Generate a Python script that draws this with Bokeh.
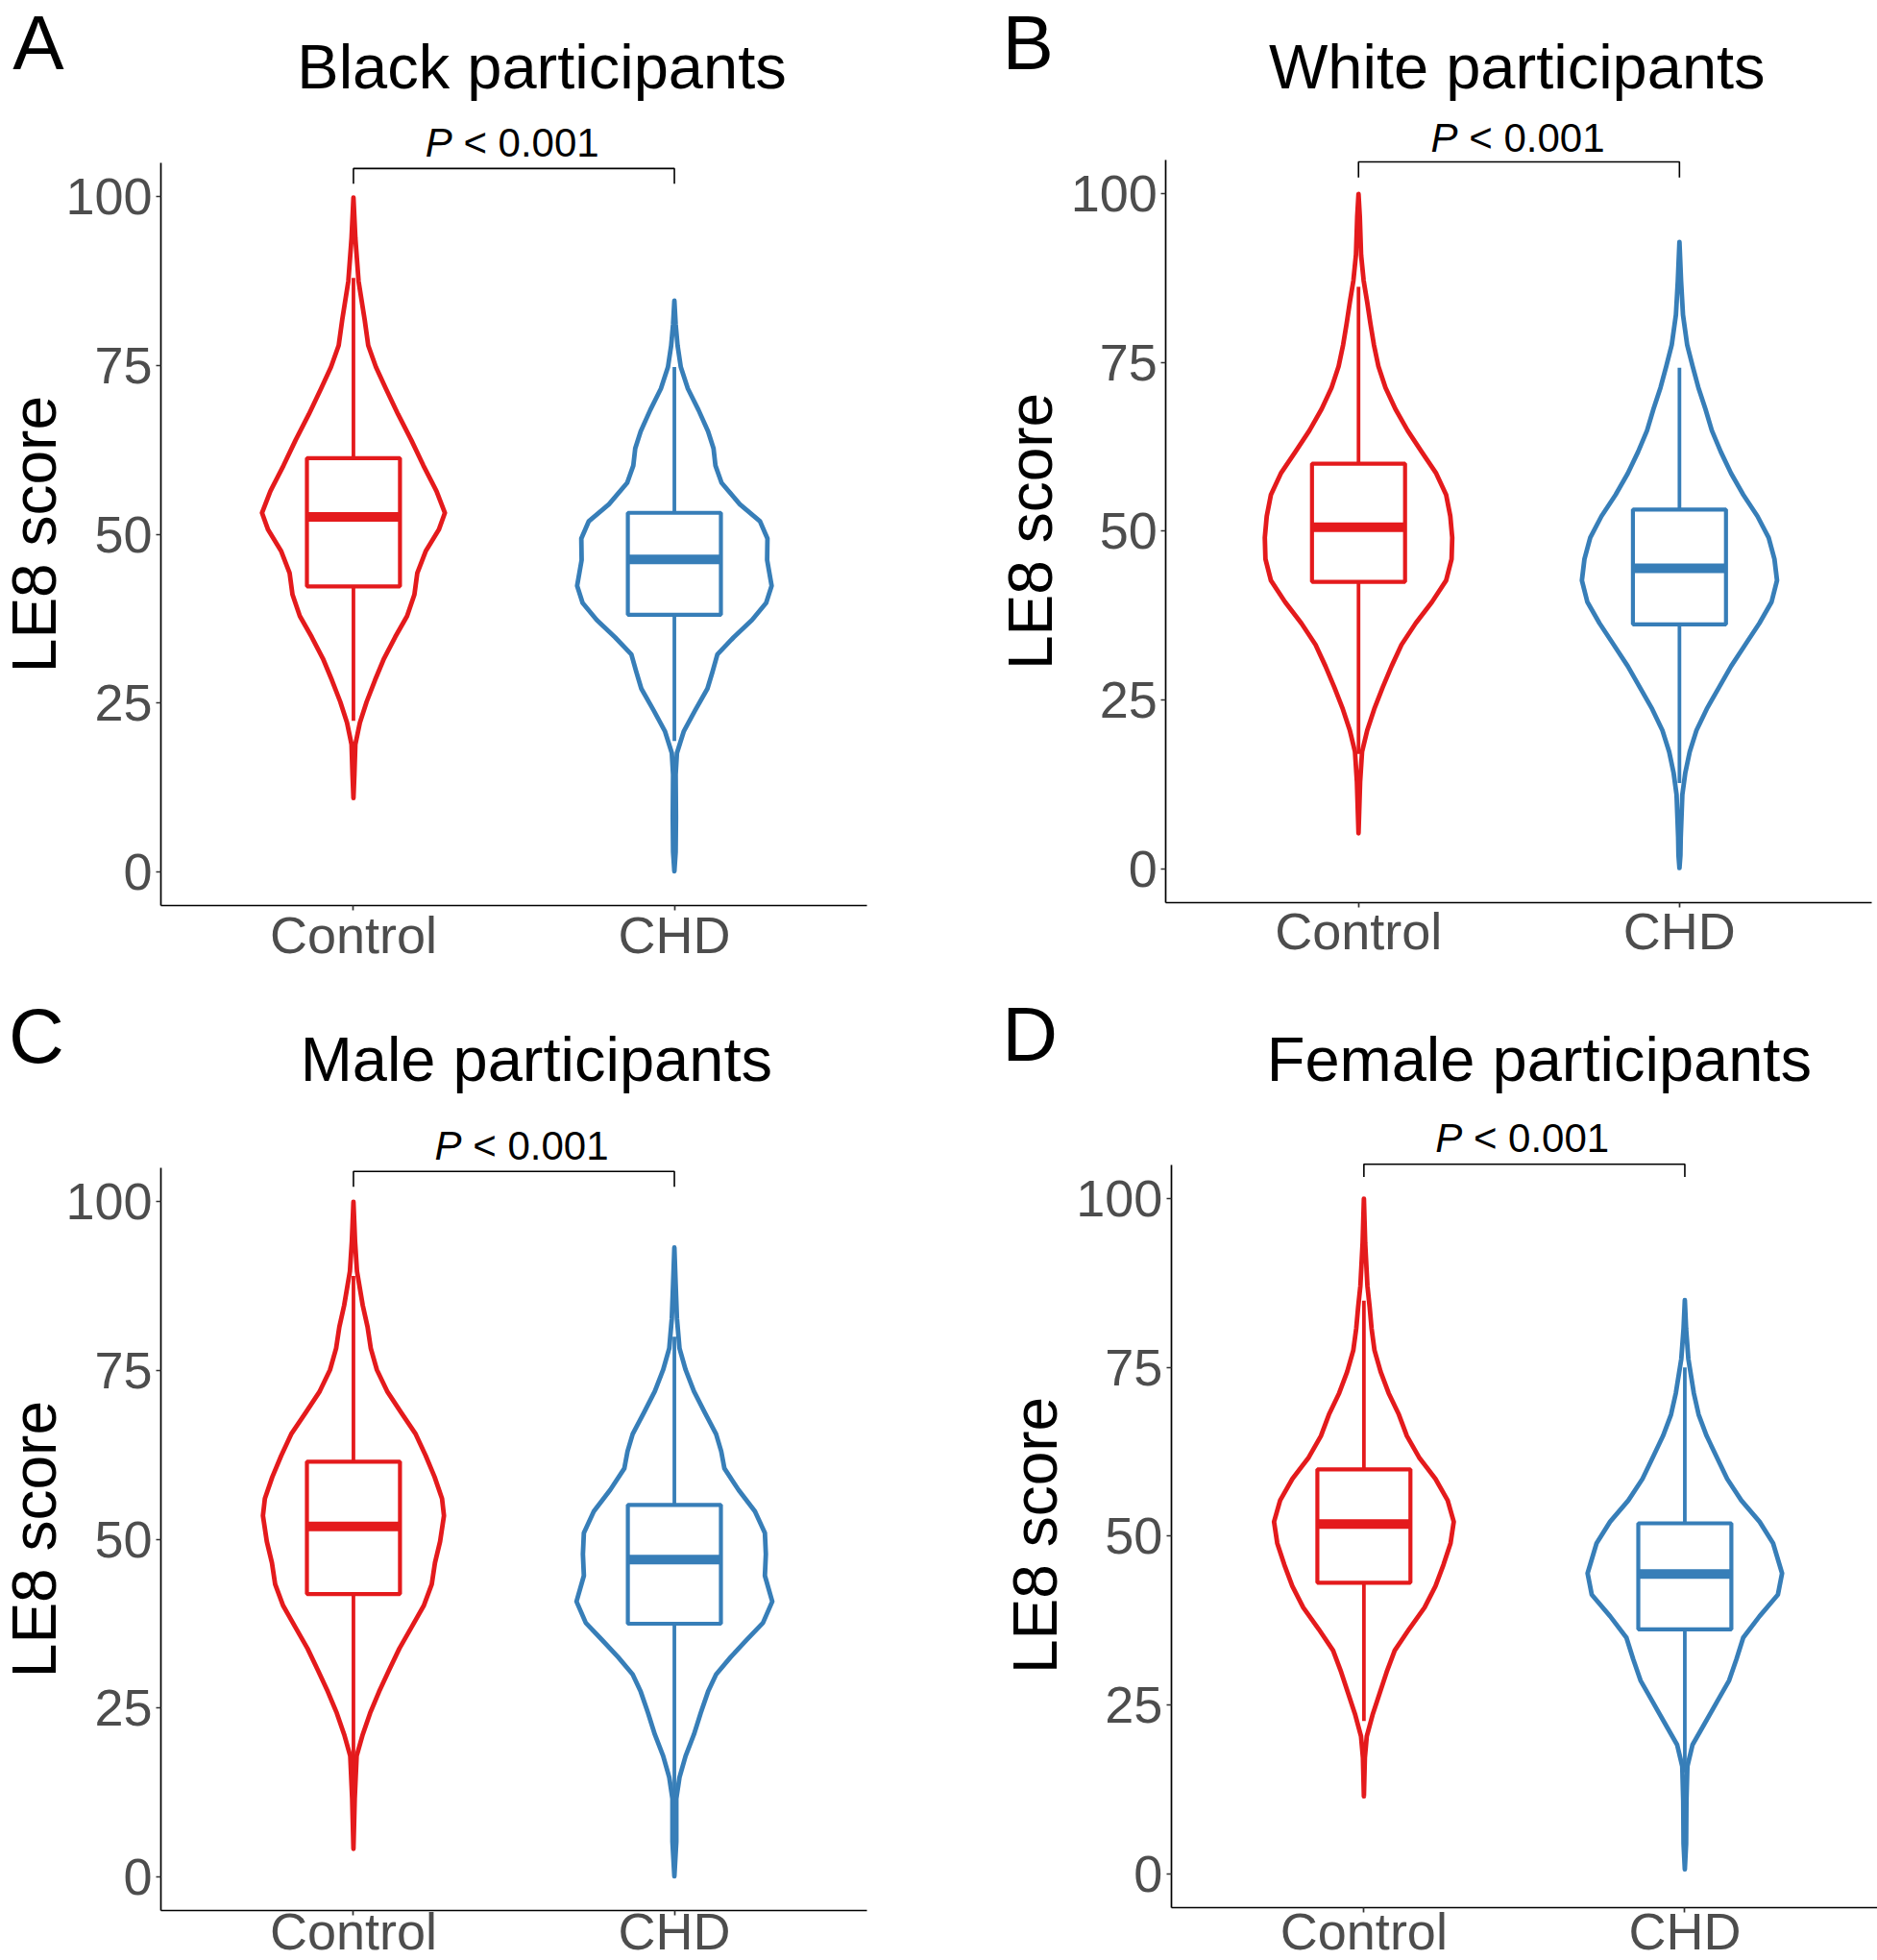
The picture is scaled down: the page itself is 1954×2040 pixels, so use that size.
import math
from bokeh.plotting import figure
from bokeh.models import Range1d, FixedTicker, Label, LinearAxis
from bokeh.layouts import row, column
from bokeh.embed import file_html
from bokeh.resources import INLINE

FONT = "Liberation Sans"
RED = "#E41A1C"
BLUE = "#377EB8"
TICK_GREY = "#4D4D4D"

# ---------------- data ----------------
categories = ["Control", "CHD"]
panel_letters = ["A", "B", "C", "D"]
panel_titles = ["Black participants", "White participants",
                "Male participants", "Female participants"]
p_italic = "P"
p_value_text = "< 0.001"
y_ticks = [0, 25, 50, 75, 100]
y_label = "LE8 score"

# violin outlines: LE8 score levels (top -> bottom) and half-widths (category units)
A_ctrl_y = [99.9, 93.9, 87.5, 81.8, 78.0, 74.8, 71.6, 67.8, 64.0, 60.2, 56.4, 53.2, 50.7,
            47.5, 44.3, 41.1, 37.9, 34.8, 31.6, 28.4, 25.2, 22.1, 18.9, 14.5, 10.95]
A_ctrl_w = [0, .006, .016, .035, .046, .070, .101, .139, .180, .218, .259, .285, .266,
            .225, .199, .190, .167, .130, .095, .067, .041, .020, .006, .003, 0]
A_chd_y = [84.65, 81.15, 77.98, 74.8, 71.6, 68.45, 65.27, 62.73, 60.19, 57.65, 54.47, 51.93,
           49.39, 46.21, 42.4, 39.86, 37.32, 34.77, 32.23, 29.69, 27.15, 23.97, 20.8, 17.62,
           14.44, 8.09, 3.0, 0.1]
A_chd_w = [0, .004, .010, .020, .042, .075, .105, .122, .128, .147, .204, .267, .290, .289,
           .303, .286, .242, .185, .134, .119, .103, .065, .029, .008, .004, .005, .004, 0]

B_ctrl_y = [99.94, 96.64, 90.93, 87.12, 83.95, 80.78, 77.6, 74.43, 71.26, 68.08, 64.91, 61.74,
            58.56, 55.39, 52.22, 49.04, 45.87, 42.7, 39.52, 36.35, 33.18, 30.0, 26.83, 23.66,
            20.48, 17.31, 12.87, 5.25]
B_ctrl_w = [0, .004, .008, .016, .027, .037, .048, .062, .084, .115, .153, .197, .242, .273,
            .286, .292, .290, .273, .229, .178, .134, .103, .075, .049, .027, .011, .005, 0]
B_chd_y = [92.83, 87.12, 82.05, 77.6, 74.43, 71.26, 68.08, 64.91, 61.74, 58.56, 55.39, 52.22,
           49.04, 45.87, 42.7, 39.52, 36.35, 33.18, 30.0, 26.83, 23.66, 20.48, 17.31, 14.14,
           10.96, 4.61, 2.0, 0.1]
B_chd_w = [0, .005, .011, .024, .041, .059, .081, .101, .129, .161, .199, .243, .278, .296,
           .304, .287, .249, .205, .161, .123, .085, .053, .032, .018, .009, .004, .003, 0]

C_ctrl_y = [100.0, 94.17, 89.72, 84.64, 81.46, 78.28, 75.11, 71.93, 68.75, 65.58, 62.4, 59.22,
            56.04, 53.5, 49.69, 46.51, 43.34, 40.16, 36.98, 33.81, 30.63, 27.45, 24.27, 21.1,
            17.92, 11.57, 4.16]
C_ctrl_w = [0, .005, .011, .029, .044, .054, .073, .105, .149, .194, .225, .253, .276, .282,
            .270, .254, .244, .219, .181, .143, .111, .080, .052, .029, .010, .004, 0]
C_chd_y = [93.22, 87.81, 82.73, 78.28, 75.11, 71.93, 68.75, 65.58, 63.03, 60.49, 57.32, 54.14,
           50.96, 47.79, 44.61, 40.79, 37.62, 35.08, 32.53, 29.99, 27.45, 24.27, 21.1, 17.92,
           14.74, 11.57, 5.21, 0.1]
C_chd_w = [0, .004, .008, .016, .035, .061, .095, .130, .146, .156, .200, .251, .282, .285,
           .282, .305, .276, .225, .175, .130, .105, .082, .061, .035, .016, .006, .006, 0]

D_ctrl_y = [100.0, 93.43, 87.07, 83.9, 80.72, 77.54, 74.37, 71.19, 68.01, 64.84, 61.66, 58.48,
            55.3, 52.13, 48.95, 45.77, 42.6, 39.42, 36.24, 33.06, 29.89, 26.71, 23.53, 20.36,
            17.18, 11.46]
D_ctrl_w = [0, .004, .011, .018, .024, .033, .052, .077, .109, .134, .172, .223, .261, .280,
            .270, .248, .223, .189, .141, .096, .071, .049, .027, .009, .003, 0]
D_chd_y = [84.98, 80.72, 76.27, 71.19, 68.01, 64.84, 61.66, 58.48, 55.3, 52.13, 48.95, 44.5,
           41.33, 38.15, 34.97, 31.8, 28.62, 25.44, 22.26, 19.09, 15.91, 10.83, 4.47, 0.64]
D_chd_w = [0, .004, .011, .028, .043, .068, .100, .132, .176, .233, .275, .303, .290, .233,
           .182, .161, .138, .100, .062, .024, .008, .005, .004, 0]

# box plots: [whisker low, Q1, median, Q3, whisker high]
A_ctrl_box = [22.4, 42.3, 52.6, 61.3, 88.0]
A_chd_box = [19.4, 38.1, 46.3, 53.2, 74.8]
B_ctrl_box = [17.0, 42.5, 50.6, 60.0, 86.2]
B_chd_box = [12.7, 36.2, 44.5, 53.2, 74.2]
C_ctrl_box = [13.0, 41.9, 51.9, 61.5, 89.0]
C_chd_box = [12.0, 37.5, 47.0, 55.1, 80.0]
D_ctrl_box = [22.6, 43.1, 51.8, 59.9, 84.9]
D_chd_box = [15.0, 36.2, 44.4, 51.9, 75.0]

# significance brackets: [bar height, tick end] in LE8 units
A_bracket = [104.2, 101.95]
B_bracket = [104.7, 102.4]
C_bracket = [104.5, 102.2]
D_bracket = [105.1, 103.2]

panel_data = {
    "A": ((A_ctrl_y, A_ctrl_w, A_ctrl_box), (A_chd_y, A_chd_w, A_chd_box), A_bracket),
    "B": ((B_ctrl_y, B_ctrl_w, B_ctrl_box), (B_chd_y, B_chd_w, B_chd_box), B_bracket),
    "C": ((C_ctrl_y, C_ctrl_w, C_ctrl_box), (C_chd_y, C_chd_w, C_chd_box), C_bracket),
    "D": ((D_ctrl_y, D_ctrl_w, D_ctrl_box), (D_chd_y, D_chd_w, D_chd_box), D_bracket),
}

# ---------------- layout (page pixels; page content starts at 0,0) ----------------
FW = 977
FH = 1020
XS = 735 / 2.2          # px per category unit
YS = 772.9 / 110.0      # px per LE8 unit
X0, X1 = 0.4, 2.6       # axis extent (category units)
Y0, Y1 = -5, 105        # axis extent (LE8 units)
BASE_K = 0.36           # renderer places the anchor ~0.36 em above the alphabetic baseline

# figure origin (ox, oy) and the plotting-panel top-left corner (fl, ft), in page px
geom = {
    "A": dict(ox=0, oy=0, fl=167.0, ft=169.3),
    "B": dict(ox=977, oy=0, fl=1213.3, ft=165.9),
    "C": dict(ox=0, oy=1020, fl=167.0, ft=1215.2),
    "D": dict(ox=977, oy=1020, fl=1218.9, ft=1211.9),
}
# text anchors in page px (baselines)
text_pos = {
    "A": dict(letter=(12.7, 73.0), title=(563.5, 92.7), p=(532.7, 162.7), ylab=(58.5, 555.6), xstand=-5),
    "B": dict(letter=(1043, 73.0), title=(1578.8, 92.4), p=(1579.5, 158.1), ylab=(1096, 552.4), xstand=-5),
    "C": dict(letter=(8.5, 1106.5), title=(557.8, 1125.4), p=(542.5, 1207.4), ylab=(58.5, 1601.6), xstand=-14),
    "D": dict(letter=(1042.7, 1104.6), title=(1601.8, 1125.4), p=(1584.2, 1199.0), ylab=(1101, 1597.4), xstand=-10),
}

LETTER_FS = 80
TITLE_FS = 65
P_FS = 42
YLAB_FS = 64


def make_panel(key, idx):
    g = geom[key]
    fl, ft, ox, oy = g["fl"], g["ft"], g["ox"], g["oy"]

    def px_x(X):
        return X0 + (X - fl) / XS

    def px_y(Y):
        return Y1 - (Y - ft) / YS

    p = figure(width=FW, height=FH,
               x_range=Range1d(px_x(ox), px_x(ox + FW)),
               y_range=Range1d(px_y(oy + FH), px_y(oy)),
               output_backend="svg", toolbar_location=None, tools="",
               x_axis_location=None, y_axis_location=None,
               min_border=0, min_border_left=0, min_border_right=0,
               min_border_top=0, min_border_bottom=0)
    p.outline_line_color = None
    p.background_fill_color = "white"
    p.border_fill_color = "white"
    p.grid.visible = False

    tp = text_pos[key]
    yaxis = LinearAxis(fixed_location=X0, bounds=(Y0, Y1), ticker=FixedTicker(ticks=y_ticks))
    xaxis = LinearAxis(fixed_location=Y0, bounds=(X0, X1), ticker=FixedTicker(ticks=[1, 2]),
                       major_label_overrides={1: categories[0], 2: categories[1]})
    for ax in (xaxis, yaxis):
        ax.axis_line_color = "black"
        ax.axis_line_width = 1.7
        ax.major_tick_line_color = "#333333"
        ax.major_tick_line_width = 1.7
        ax.major_tick_in = 0
        ax.major_tick_out = 5
        ax.minor_tick_line_color = None
        ax.major_label_text_font = FONT
        ax.major_label_text_color = TICK_GREY
        ax.major_label_text_font_size = "54px"
    yaxis.major_label_standoff = 4
    xaxis.major_label_standoff = tp["xstand"]
    p.add_layout(yaxis, "left")
    p.add_layout(xaxis, "below")

    groups = panel_data[key]
    colors = [RED, BLUE]
    for gi in range(2):
        yv, wv, box = groups[gi]
        c = gi + 1
        col = colors[gi]
        ys_up = list(reversed(yv))
        ws_up = list(reversed(wv))
        xs = [c + w for w in ws_up] + [c - w for w in reversed(ws_up)]
        ys = ys_up + list(reversed(ys_up))
        p.patch(xs, ys, fill_color="white", line_color=col, line_width=4.8, line_join="round")
        wlo, q1, med, q3, whi = box
        p.segment(x0=[c], y0=[wlo], x1=[c], y1=[whi], line_color=col, line_width=3.8)
        p.quad(left=[c - 0.145], right=[c + 0.145], bottom=[q1], top=[q3],
               fill_color="white", line_color=col, line_width=4.2)
        p.segment(x0=[c - 0.145], y0=[med], x1=[c + 0.145], y1=[med],
                  line_color=col, line_width=10, line_cap="butt")

    br = groups[2]
    p.line([1, 1, 2, 2], [br[1], br[0], br[0], br[1]], line_color="black", line_width=1.6)

    def hlabel(X, Ybase, text, fs, align, style="normal", color="black"):
        p.add_layout(Label(x=px_x(X), y=px_y(Ybase - BASE_K * fs), text=text,
                           text_font=FONT, text_font_size=f"{fs}px", text_font_style=style,
                           text_color=color, text_align=align, text_baseline="alphabetic"))

    # panel letter
    hlabel(tp["letter"][0], tp["letter"][1], panel_letters[idx], LETTER_FS, "left")
    # title
    hlabel(tp["title"][0], tp["title"][1], panel_titles[idx], TITLE_FS, "center")
    # P value text: italic P followed by "< 0.001"
    total = 4.309 * P_FS
    left = tp["p"][0] - total / 2
    hlabel(left, tp["p"][1], p_italic, P_FS, "left", style="italic")
    hlabel(left + (0.667 + 0.278) * P_FS, tp["p"][1], p_value_text, P_FS, "left")
    # y axis title (rotated; its baseline is a vertical line at x = ylab[0])
    p.add_layout(Label(x=px_x(tp["ylab"][0] - BASE_K * YLAB_FS), y=px_y(tp["ylab"][1]), text=y_label,
                       text_font=FONT, text_font_size=f"{YLAB_FS}px", text_color="black",
                       text_align="center", text_baseline="alphabetic", angle=math.pi / 2))
    return p


pA = make_panel("A", 0)
pB = make_panel("B", 1)
pC = make_panel("C", 2)
pD = make_panel("D", 3)

layout = column(row(pA, pB, spacing=0), row(pC, pD, spacing=0), spacing=0)
open("out.html", "w").write(file_html(layout, INLINE))
